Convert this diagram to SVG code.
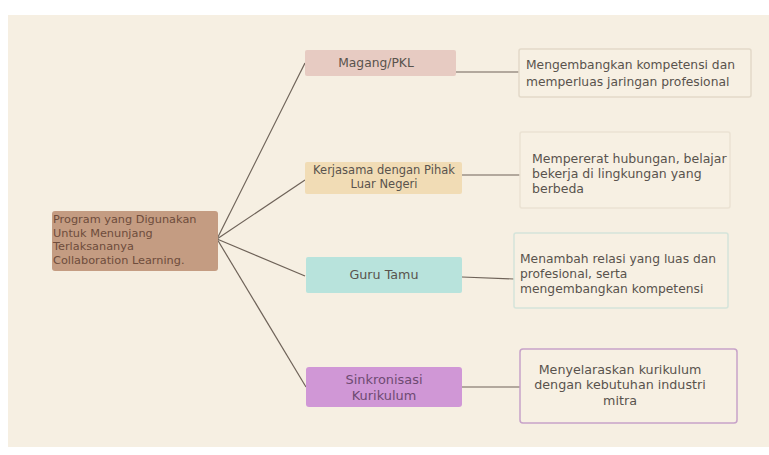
<svg xmlns="http://www.w3.org/2000/svg" width="769" height="455" viewBox="0 0 769 455">
<style>
.t{font-family:"DejaVu Sans","Liberation Sans",sans-serif;fill:#59534d}
.c{stroke:#6e6258;stroke-width:1.2;fill:none}
.r{fill:#f7f0e3;stroke-width:1.5}
</style>
<rect x="0" y="0" width="769" height="455" fill="#ffffff"/>
<rect x="8" y="15" width="761" height="432" fill="#f6efe2"/>
<g id="connectors">
<line class="c" x1="217" y1="239" x2="305" y2="63"/>
<line class="c" x1="217" y1="239" x2="305" y2="180"/>
<line class="c" x1="217" y1="239" x2="305" y2="276"/>
<line class="c" x1="217" y1="239" x2="306" y2="387"/>
<line class="c" x1="456" y1="72" x2="519" y2="72"/>
<line class="c" x1="462" y1="175" x2="520" y2="175"/>
<line class="c" x1="462" y1="277" x2="514" y2="279"/>
<line class="c" x1="458" y1="387" x2="520" y2="387"/>
</g>
<g id="root">
<rect x="52" y="211" width="166" height="60" rx="3" fill="#c49c82"/>
<text class="t" style="fill:#6e4c3c" font-size="11.3"><tspan x="53" y="223">Program yang Digunakan</tspan><tspan x="53" y="236.5">Untuk Menunjang</tspan><tspan x="53" y="250">Terlaksananya</tspan><tspan x="53" y="264">Collaboration Learning.</tspan></text>
</g>
<g id="magang">
<rect x="305" y="50" width="151" height="26" rx="2" fill="#e7cbc2"/>
<text class="t" font-size="12.3" x="376" y="67" text-anchor="middle">Magang/PKL</text>
</g>
<g id="kerjasama">
<rect x="305" y="162" width="157" height="32" rx="2" fill="#f1dcb5"/>
<text class="t" font-size="11.5" text-anchor="middle"><tspan x="384" y="174">Kerjasama dengan Pihak</tspan><tspan x="384" y="188">Luar Negeri</tspan></text>
</g>
<g id="guru">
<rect x="306" y="257" width="156" height="36" rx="2" fill="#b8e3dc"/>
<text class="t" font-size="12.7" x="384" y="279" text-anchor="middle">Guru Tamu</text>
</g>
<g id="sinkronisasi">
<rect x="306" y="367" width="156" height="40" rx="3" fill="#d097d6"/>
<text class="t" style="fill:#6e4a72" font-size="12.9" text-anchor="middle"><tspan x="384" y="384">Sinkronisasi</tspan><tspan x="384" y="400">Kurikulum</tspan></text>
</g>
<g id="box1">
<rect class="r" x="519" y="49" width="232" height="48" rx="2" stroke="#e3d9c9"/>
<text class="t" font-size="12.3"><tspan x="526" y="69">Mengembangkan kompetensi dan</tspan><tspan x="526" y="86">memperluas jaringan profesional</tspan></text>
</g>
<g id="box2">
<rect class="r" x="520" y="132" width="210" height="76" rx="2" stroke="#ebe2d3"/>
<text class="t" font-size="12.5"><tspan x="532" y="163">Mempererat hubungan, belajar</tspan><tspan x="532" y="178">bekerja di lingkungan yang</tspan><tspan x="532" y="193">berbeda</tspan></text>
</g>
<g id="box3">
<rect class="r" x="514" y="233" width="214" height="75" rx="2" stroke="#d5e4da"/>
<text class="t" font-size="12.3"><tspan x="520" y="263">Menambah relasi yang luas dan</tspan><tspan x="520" y="278">profesional, serta</tspan><tspan x="520" y="293">mengembangkan kompetensi</tspan></text>
</g>
<g id="box4">
<rect class="r" x="520" y="349" width="217" height="74" rx="3" stroke="#c7a2c9"/>
<text class="t" font-size="12.7" text-anchor="middle"><tspan x="620" y="374">Menyelaraskan kurikulum</tspan><tspan x="620" y="389">dengan kebutuhan industri</tspan><tspan x="620" y="405">mitra</tspan></text>
</g>
</svg>
